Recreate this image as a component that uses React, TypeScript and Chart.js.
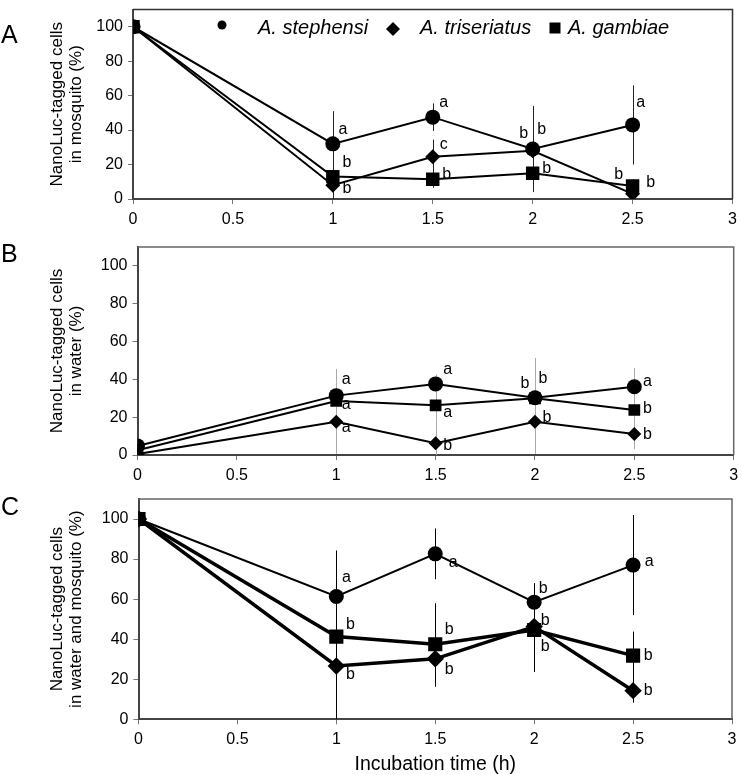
import React, { useEffect, useRef } from 'react';
import { Chart, registerables } from 'chart.js';

Chart.register(...registerables);

const FONT = "'Liberation Sans', Arial, Helvetica, sans-serif";
Chart.defaults.font.family = FONT;

// ---------- data ----------
const timePoints = [0, 1, 1.5, 2, 2.5];
const xTickValues = [0, 0.5, 1, 1.5, 2, 2.5, 3];
const yTickValues = [0, 20, 40, 60, 80, 100];
const speciesNames = ['A. stephensi', 'A. triseriatus', 'A. gambiae'];
const xAxisTitle = 'Incubation time (h)';

// Panel A: in mosquito
const mosquitoStephensi = [100, 32, 47.5, 29, 43];
const mosquitoTriseriatus = [100, 8, 24.5, 28, 3];
const mosquitoGambiae = [100, 13, 11.5, 15, 7.5];
const mosquitoStephensiErr = [0, 19, 8, 25, 23];
const mosquitoTriseriatusErr = [0, 9, 10, 10, 3];
const mosquitoGambiaeErr = [0, 10, 5, 8, 4];
const mosquitoStephensiSig = ['', 'a', 'a', 'b', 'a'];
const mosquitoTriseriatusSig = ['', 'b', 'c', 'b', 'b'];
const mosquitoGambiaeSig = ['', 'b', 'b', 'b', 'b'];

// Panel B: in water
const waterStephensi = [4.8, 31.4, 37.6, 30.3, 36.1];
const waterTriseriatus = [0.5, 17.6, 6.2, 17.6, 11.1];
const waterGambiae = [2.5, 28.6, 26.3, 30, 23.8];
const waterStephensiErr = [0, 14, 5, 21, 10];
const waterTriseriatusErr = [0, 17, 12, 17, 8];
const waterGambiaeErr = [0, 8, 8, 10, 5];
const waterStephensiSig = ['', 'a', 'a', 'b', 'a'];
const waterTriseriatusSig = ['', 'a', 'b', 'b', 'b'];
const waterGambiaeSig = ['', 'a', 'a', 'b', 'b'];

// Panel C: in water and mosquito
const totalStephensi = [100, 61.3, 82.6, 58.5, 77];
const totalTriseriatus = [100, 26.6, 30.2, 46.3, 14.3];
const totalGambiae = [100, 41.3, 37.5, 44.6, 31.8];
const totalStephensiErr = [0, 23, 12.7, 9.5, 25];
const totalTriseriatusErr = [0, 27, 14, 15, 6];
const totalGambiaeErr = [0, 15, 20.5, 21, 12];
const totalStephensiSig = ['', 'a', 'a', 'b', 'a'];
const totalTriseriatusSig = ['', 'b', 'b', 'b', 'b'];
const totalGambiaeSig = ['', 'b', 'b', 'b', 'b'];

// ---------- layout / style ----------
type Off = [number, number];
interface SeriesSpec {
  name: string;
  values: number[];
  errors: number[];
  letters: string[];
  offsets: Off[];
  pointStyle: 'circle' | 'rectRot' | 'rect';
  radius: number;
  lineWidth: number;
}
interface PanelSpec {
  tag: string;
  tagY: number;
  top: number;
  height: number;
  area: { left: number; right: number; top: number; bottom: number };
  yTitle: string[];
  xTitle?: string;
  errorColor: string;
  frameColor: string;
  legend: boolean;
  series: SeriesSpec[];
}

const PAGE_W = 742;

const panels: PanelSpec[] = [
  {
    tag: 'A', tagY: 36, top: 0, height: 232,
    area: { left: 133, right: 733, top: 1, bottom: 199 },
    yTitle: ['NanoLuc-tagged cells', 'in mosquito (%)'],
    errorColor: '#222', frameColor: '#333', legend: true,
    series: [
      { name: speciesNames[0], values: mosquitoStephensi, errors: mosquitoStephensiErr, letters: mosquitoStephensiSig,
        offsets: [[0, 0], [10, -14], [11, -15], [-9, -15], [8, -22]], pointStyle: 'circle', radius: 7.5, lineWidth: 2 },
      { name: speciesNames[1], values: mosquitoTriseriatus, errors: mosquitoTriseriatusErr, letters: mosquitoTriseriatusSig,
        offsets: [[0, 0], [14, 3], [11, -12], [9, -21], [18, -11]], pointStyle: 'rectRot', radius: 7.5, lineWidth: 2 },
      { name: speciesNames[2], values: mosquitoGambiae, errors: mosquitoGambiaeErr, letters: mosquitoGambiaeSig,
        offsets: [[0, 0], [14, -14], [14, -5], [14, -5], [-14, -11]], pointStyle: 'rect', radius: 9.5, lineWidth: 2 },
    ],
  },
  {
    tag: 'B', tagY: 23, top: 232, height: 250,
    area: { left: 137.5, right: 737.5, top: 247, bottom: 455 },
    yTitle: ['NanoLuc-tagged cells', 'in water (%)'],
    errorColor: '#aaa', frameColor: '#666', legend: false,
    series: [
      { name: speciesNames[0], values: waterStephensi, errors: waterStephensiErr, letters: waterStephensiSig,
        offsets: [[0, 0], [10, -16], [12, -14], [-10, -14], [13, -5]], pointStyle: 'circle', radius: 7.5, lineWidth: 2 },
      { name: speciesNames[1], values: waterTriseriatus, errors: waterTriseriatusErr, letters: waterTriseriatusSig,
        offsets: [[0, 0], [10, 6], [12, 2], [12, -4], [13, 1]], pointStyle: 'rectRot', radius: 7, lineWidth: 2 },
      { name: speciesNames[2], values: waterGambiae, errors: waterGambiaeErr, letters: waterGambiaeSig,
        offsets: [[0, 0], [10, 4], [12, 7], [8, -20], [13, -1]], pointStyle: 'rect', radius: 8.3, lineWidth: 2 },
    ],
  },
  {
    tag: 'C', tagY: 26, top: 482, height: 293,
    area: { left: 138.5, right: 738.5, top: 499, bottom: 719.3 },
    yTitle: ['NanoLuc-tagged cells', 'in water and mosquito (%)'],
    xTitle: xAxisTitle,
    errorColor: '#000', frameColor: '#666', legend: false,
    series: [
      { name: speciesNames[0], values: totalStephensi, errors: totalStephensiErr, letters: totalStephensiSig,
        offsets: [[0, 0], [10, -18.5], [18, 9], [9, -14], [16, -3]], pointStyle: 'circle', radius: 7.5, lineWidth: 2 },
      { name: speciesNames[1], values: totalTriseriatus, errors: totalTriseriatusErr, letters: totalTriseriatusSig,
        offsets: [[0, 0], [14, 9], [14, 11], [11, -6], [15, 0]], pointStyle: 'rectRot', radius: 8.7, lineWidth: 3.5 },
      { name: speciesNames[2], values: totalGambiae, errors: totalGambiaeErr, letters: totalGambiaeSig,
        offsets: [[0, 0], [14, -11.6], [14, -15], [11, 17], [15, 0]], pointStyle: 'rect', radius: 10, lineWidth: 3.5 },
    ],
  },
];

// legend geometry for panel A (canvas coordinates)
const legendItems = [
  { mx: 222, my: 25, size: 4.5, tx: 258 },
  { mx: 393, my: 29, size: 7, tx: 420 },
  { mx: 555, my: 28, size: 5.5, tx: 568 },
];
const legendTextY = 28;

function makePlugin(spec: PanelSpec) {
  return {
    id: 'panelDecor' + spec.tag,
    beforeDatasetsDraw(chart: any) {
      const { ctx, chartArea } = chart;
      const yScale = chart.scales.y;
      ctx.save();
      ctx.beginPath();
      ctx.rect(chartArea.left, chartArea.top, chartArea.right - chartArea.left, chartArea.bottom - chartArea.top);
      ctx.clip();
      ctx.strokeStyle = spec.errorColor;
      ctx.lineWidth = 1;
      spec.series.forEach((s, i) => {
        const meta = chart.getDatasetMeta(i);
        s.errors.forEach((e, j) => {
          if (!e) return;
          const pt = meta.data[j];
          const hi = yScale.getPixelForValue(s.values[j] + e);
          const lo = yScale.getPixelForValue(s.values[j] - e);
          const x = Math.round(pt.x) + 0.5;
          ctx.beginPath();
          ctx.moveTo(x, hi);
          ctx.lineTo(x, lo);
          ctx.stroke();
        });
      });
      ctx.restore();
    },
    afterDatasetsDraw(chart: any) {
      const { ctx, chartArea } = chart;
      ctx.save();
      // frame top and right
      ctx.strokeStyle = spec.frameColor;
      ctx.lineWidth = 1.5;
      ctx.beginPath();
      ctx.moveTo(chartArea.left, chartArea.top);
      ctx.lineTo(chartArea.right, chartArea.top);
      ctx.lineTo(chartArea.right, chartArea.bottom);
      ctx.stroke();
      // significance letters
      ctx.fillStyle = '#000';
      ctx.font = `16px ${FONT}`;
      ctx.textAlign = 'center';
      ctx.textBaseline = 'middle';
      spec.series.forEach((s, i) => {
        const meta = chart.getDatasetMeta(i);
        s.letters.forEach((l, j) => {
          if (!l) return;
          const pt = meta.data[j];
          ctx.fillText(l, pt.x + s.offsets[j][0], pt.y + s.offsets[j][1]);
        });
      });
      // panel tag
      ctx.textAlign = 'left';
      ctx.font = `25px ${FONT}`;
      ctx.fillText(spec.tag, 1, spec.tagY);
      // legend
      if (spec.legend) {
        spec.series.forEach((s, i) => {
          const it = legendItems[i];
          ctx.beginPath();
          if (s.pointStyle === 'circle') {
            ctx.arc(it.mx, it.my, it.size, 0, Math.PI * 2);
          } else if (s.pointStyle === 'rectRot') {
            ctx.moveTo(it.mx - it.size, it.my);
            ctx.lineTo(it.mx, it.my - it.size);
            ctx.lineTo(it.mx + it.size, it.my);
            ctx.lineTo(it.mx, it.my + it.size);
            ctx.closePath();
          } else {
            ctx.rect(it.mx - it.size, it.my - it.size, it.size * 2, it.size * 2);
          }
          ctx.fill();
          ctx.font = `italic 20px ${FONT}`;
          ctx.textAlign = 'left';
          ctx.fillText(s.name, it.tx, legendTextY);
        });
      }
      ctx.restore();
    },
  };
}

function Panel({ spec }: { spec: PanelSpec }) {
  const ref = useRef<HTMLCanvasElement>(null);
  useEffect(() => {
    const canvas = ref.current;
    if (!canvas) return;
    const a = spec.area;
    const xAxisH = spec.height - (a.bottom - spec.top);
    const chart = new Chart(canvas, {
      type: 'line',
      data: {
        datasets: spec.series.map((s) => ({
          label: s.name,
          data: timePoints.map((t, i) => ({ x: t, y: s.values[i] })),
          borderColor: '#000',
          backgroundColor: '#000',
          borderWidth: s.lineWidth,
          pointStyle: s.pointStyle,
          pointRadius: s.radius,
          pointBackgroundColor: '#000',
          pointBorderColor: '#000',
          pointBorderWidth: 0,
          tension: 0,
          fill: false,
        })),
      },
      options: {
        responsive: false,
        animation: false,
        events: [],
        layout: { padding: { left: 0, top: a.top - spec.top, right: PAGE_W - a.right, bottom: 0 } },
        plugins: { legend: { display: false }, tooltip: { enabled: false } },
        scales: {
          x: {
            type: 'linear',
            min: 0,
            max: 3,
            afterBuildTicks: (s: any) => {
              s.ticks = xTickValues.map((v) => ({ value: v }));
            },
            afterFit: (s: any) => {
              s.height = xAxisH;
              s.paddingLeft = 0;
              s.paddingRight = 0;
            },
            ticks: {
              callback: (v: any) => String(v),
              font: { size: 16 },
              color: '#000',
              padding: 6,
              maxRotation: 0,
              autoSkip: false,
            },
            grid: { display: true, drawOnChartArea: false, drawTicks: true, tickLength: 5, color: '#777' },
            border: { display: true, color: '#444', width: 2 },
            title: spec.xTitle
              ? { display: true, text: spec.xTitle, font: { size: 19.5, lineHeight: 1 }, color: '#000', padding: { top: 0, bottom: 1 } }
              : { display: false },
          },
          y: {
            type: 'linear',
            min: 0,
            max: 110,
            afterBuildTicks: (s: any) => {
              s.ticks = yTickValues.map((v) => ({ value: v }));
            },
            afterFit: (s: any) => {
              s.width = a.left;
              s.paddingTop = 0;
              s.paddingBottom = 0;
            },
            ticks: { font: { size: 16 }, color: '#000', padding: 5, callback: (v: any) => String(v) },
            grid: { display: true, drawOnChartArea: false, drawTicks: true, tickLength: 5, color: '#777' },
            border: { display: true, color: '#444', width: 2 },
            title: {
              display: true,
              text: spec.yTitle,
              font: { size: 17, lineHeight: 1.12 },
              color: '#000',
              padding: { top: 47.5, bottom: 0 },
            },
          },
        },
      } as any,
      plugins: [makePlugin(spec)],
    });
    return () => chart.destroy();
  }, [spec]);
  return (
    <canvas
      ref={ref}
      width={PAGE_W}
      height={spec.height}
      style={{ position: 'absolute', left: 0, top: spec.top, width: PAGE_W, height: spec.height }}
    />
  );
}

export default function App() {
  return (
    <div style={{ position: 'absolute', left: 0, top: 0, width: PAGE_W, height: 775, background: '#fff' }}>
      {panels.map((p) => (
        <Panel key={p.tag} spec={p} />
      ))}
    </div>
  );
}
